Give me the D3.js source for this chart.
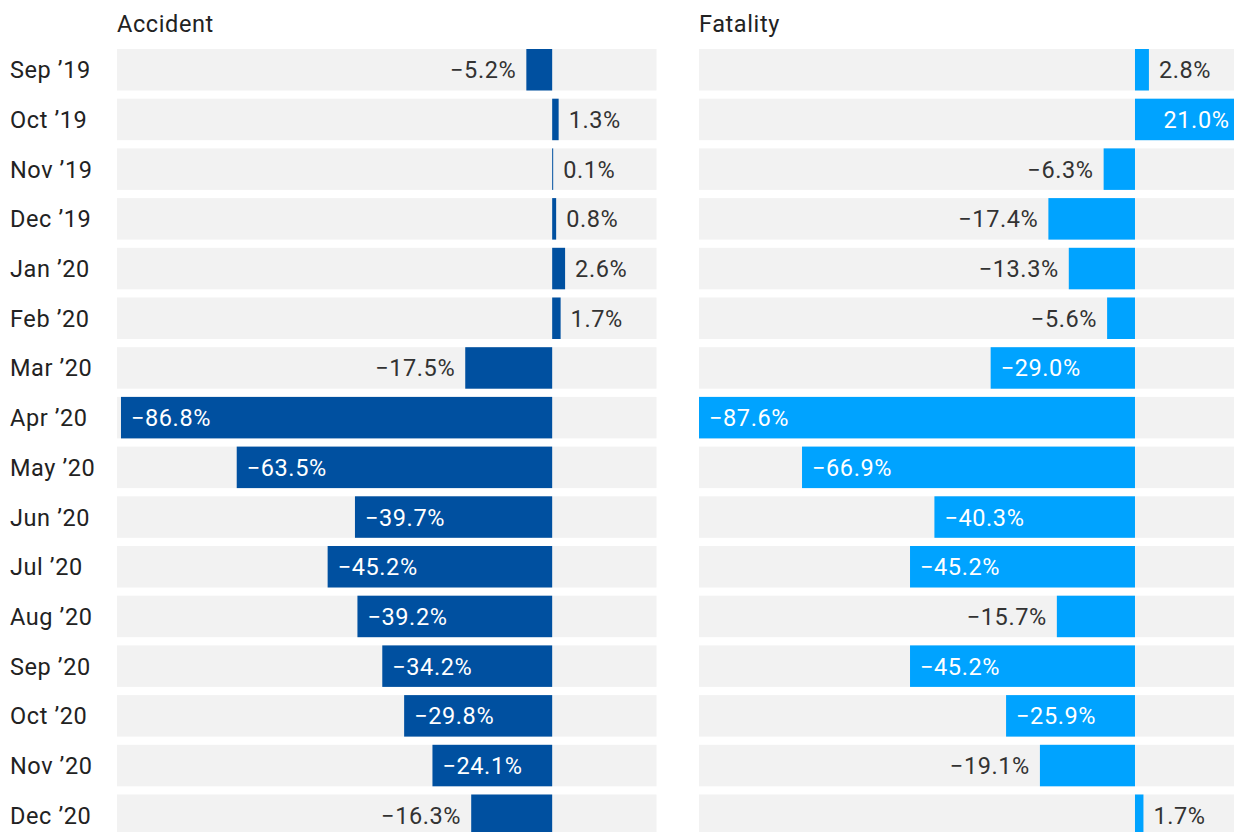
<!DOCTYPE html>
<html><head><meta charset="utf-8">
<script src="https://cdn.jsdelivr.net/npm/d3@7"></script>
<style>
html,body{margin:0;padding:0;background:#fff;}
svg{display:block;font-family:Roboto,"Noto Sans",sans-serif;}
text{letter-spacing:0.6px;}
</style></head>
<body>
<svg id="chart" width="1234" height="832"></svg>
<script>
const months = ["Sep \u201919","Oct \u201919","Nov \u201919","Dec \u201919","Jan \u201920","Feb \u201920","Mar \u201920","Apr \u201920","May \u201920","Jun \u201920","Jul \u201920","Aug \u201920","Sep \u201920","Oct \u201920","Nov \u201920","Dec \u201920"];
const accident = [-5.2,1.3,0.1,0.8,2.6,1.7,-17.5,-86.8,-63.5,-39.7,-45.2,-39.2,-34.2,-29.8,-24.1,-16.3];
const fatality = [2.8,21.0,-6.3,-17.4,-13.3,-5.6,-29.0,-87.6,-66.9,-40.3,-45.2,-15.7,-45.2,-25.9,-19.1,1.7];
const panelTitles = ["Accident","Fatality"];
const xDomain = [-87.6, 21.0];

const svg = d3.select("#chart");
const y = d3.scaleBand().domain(months).range([49, 836]).paddingInner(0.165).paddingOuter(0);
const fmt = v => (v < 0 ? "\u2212" : "") + Math.abs(v).toFixed(1) + "%";
const FS = 23.5;

// row labels
svg.append("g").selectAll("text").data(months).join("text")
  .attr("x", 10).attr("y", d => y(d) + y.bandwidth()/2).attr("dy", "0.36em")
  .attr("font-size", FS).attr("fill", "#222").text(d => d);

const panels = [
  {title: panelTitles[0], data: accident, range: [117, 656.5], color: "#0050a0"},
  {title: panelTitles[1], data: fatality, range: [699, 1239.5], color: "#00a3ff"}
];

panels.forEach(p => {
  const x = d3.scaleLinear().domain(xDomain).range(p.range);
  const g = svg.append("g");
  g.append("text").attr("x", p.range[0]).attr("y", 32).attr("font-size", FS).attr("fill", "#222").text(p.title);
  g.selectAll("rect.bg").data(months).join("rect").attr("class","bg")
    .attr("x", p.range[0]).attr("width", p.range[1]-p.range[0])
    .attr("y", d => y(d)).attr("height", y.bandwidth()).attr("fill", "#f2f2f2");
  const rows = months.map((m,i) => ({m, v: p.data[i]}));
  g.selectAll("rect.bar").data(rows).join("rect").attr("class","bar")
    .attr("x", d => x(Math.min(0,d.v))).attr("width", d => Math.max(1, Math.abs(x(d.v)-x(0))))
    .attr("y", d => y(d.m)).attr("height", y.bandwidth()).attr("fill", p.color);
  g.selectAll("text.val").data(rows).join("text").attr("class","val")
    .attr("y", d => y(d.m) + y.bandwidth()/2).attr("dy", "0.36em").attr("font-size", FS)
    .each(function(d){
      const inside = Math.abs(d.v) >= 20;
      const sel = d3.select(this);
      const end = x(d.v);
      if (inside) {
        sel.attr("fill", "#fff")
          .attr("x", d.v < 0 ? end + 10 : end - 10)
          .attr("text-anchor", d.v < 0 ? "start" : "end");
      } else {
        const edge = d.v < 0 ? Math.min(end, x(0)) : Math.max(end, x(0)+1);
        sel.attr("fill", "#333")
          .attr("x", d.v < 0 ? edge - 10 : edge + 10)
          .attr("text-anchor", d.v < 0 ? "end" : "start");
      }
    })
    .text(d => fmt(d.v));
});
</script>
</body></html>
